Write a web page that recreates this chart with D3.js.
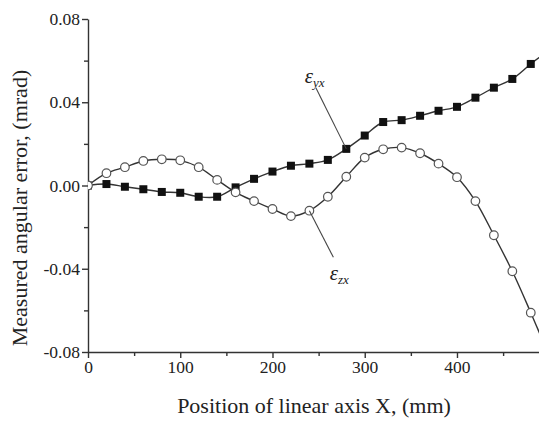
<!DOCTYPE html>
<head>
  <meta charset="utf-8">
  <script src="https://d3js.org/d3.v7.min.js"></script>
  <style>
    body { margin: 0; background: white; }
    text { font-family: "Liberation Serif", "Times New Roman", serif; fill: #222; }
    .axis path, .axis line { stroke: #333; stroke-width: 1.4; }
    .curve { fill: none; stroke: #333; stroke-width: 1.4; }
  </style>
</head>

<body>
  <script>
const W = 539;
const H = 423;

// positions along the axis (mm)
const positions = [0, 20, 40, 60, 80, 100, 120, 140, 160, 180, 200, 220, 240,
                   260, 280, 300, 320, 340, 360, 380, 400, 420, 440, 460, 480];
// eps_yx, filled squares (mrad)
const epsYX = [0, 0.0007, -0.0006, -0.0018, -0.0031, -0.0035, -0.0054, -0.0054, -0.0009,
               0.0032, 0.0067, 0.0095, 0.0105, 0.0123, 0.0176, 0.0240, 0.0305, 0.0314,
               0.0335, 0.0359, 0.0378, 0.0422, 0.0470, 0.0512, 0.0584];
// eps_zx, open circles (mrad)
const epsZX = [0, 0.0059, 0.0088, 0.0118, 0.0126, 0.0121, 0.0088, 0.0027, -0.0033,
               -0.0075, -0.0113, -0.0147, -0.0121, -0.0054, 0.0042, 0.0134, 0.0174, 0.0182,
               0.0155, 0.0105, 0.0040, -0.0075, -0.0239, -0.0412, -0.0611];
// curves run on past the last marker and out of the frame
const tailPosition = 500;
const tailYX = 0.065;
const tailZX = -0.082;

const xTicks = [0, 100, 200, 300, 400];
const xMinor = [50, 150, 250, 350, 450];
const yTicks = [-0.08, -0.04, 0, 0.04, 0.08];
const yMinor = [-0.06, -0.02, 0.02, 0.06];

const FONT = "'Liberation Serif', 'Times New Roman', serif";

var svg = d3.select("body").append("svg")
  .attr("width", W)
  .attr("height", H);

var x = d3.scaleLinear().domain([0, 490]).range([88, 540]);
var y = d3.scaleLinear().domain([-0.08, 0.08]).range([352, 19]);

svg.append("clipPath").attr("id", "plot")
  .append("rect").attr("x", 88).attr("y", 0).attr("width", 452).attr("height", 352);

// minor ticks first, then the labelled axes
svg.append("g").attr("class", "axis")
  .attr("transform", "translate(0,352)")
  .call(d3.axisBottom(x).tickValues(xMinor).tickSize(4).tickFormat(""))
  .select(".domain").remove();
svg.append("g").attr("class", "axis")
  .attr("transform", "translate(88,0)")
  .call(d3.axisLeft(y).tickValues(yMinor).tickSize(4).tickFormat(""))
  .select(".domain").remove();

var xaxis = svg.append("g").attr("class", "axis")
  .attr("transform", "translate(0,352)")
  .call(d3.axisBottom(x).tickValues(xTicks).tickSize(6).tickSizeOuter(0).tickPadding(3));
xaxis.attr("font-family", FONT);
xaxis.selectAll("text").style("font-size", "17.5px").style("font-family", FONT);

var yaxis = svg.append("g").attr("class", "axis")
  .attr("transform", "translate(88,0)")
  .call(d3.axisLeft(y).tickValues(yTicks).tickSize(6).tickSizeOuter(0).tickPadding(2)
    .tickFormat(d => d3.format(".2f")(d).replace("−", "-")));
yaxis.attr("font-family", FONT);
yaxis.selectAll("text").style("font-size", "17.5px").style("font-family", FONT);

// axis titles
svg.append("text")
  .attr("x", 314).attr("y", 413)
  .attr("text-anchor", "middle")
  .style("font-size", "22px")
  .text("Position of linear axis X, (mm)");

svg.append("text")
  .attr("transform", "translate(27,208) rotate(-90)")
  .attr("text-anchor", "middle")
  .style("font-size", "22px")
  .text("Measured angular error, (mrad)");

var line = d3.line()
  .x(d => x(d[0]))
  .y(d => y(d[1]))
  .curve(d3.curveCatmullRom);

var plot = svg.append("g").attr("clip-path", "url(#plot)");

var yxPts = positions.map((p, i) => [p, epsYX[i]]);
var zxPts = positions.map((p, i) => [p, epsZX[i]]);

plot.append("path").attr("class", "curve")
  .attr("d", line(zxPts.concat([[tailPosition, tailZX]])));
plot.append("path").attr("class", "curve")
  .attr("d", line(yxPts.concat([[tailPosition, tailYX]])));

plot.selectAll("rect.sq").data(yxPts).enter()
  .append("rect").attr("class", "sq")
  .attr("x", d => x(d[0]) - 4)
  .attr("y", d => y(d[1]) - 4)
  .attr("width", 8).attr("height", 8)
  .attr("fill", "#111");

plot.selectAll("circle.ci").data(zxPts).enter()
  .append("circle").attr("class", "ci")
  .attr("cx", d => x(d[0]))
  .attr("cy", d => y(d[1]))
  .attr("r", 4.3)
  .attr("fill", "white")
  .attr("stroke", "#555")
  .attr("stroke-width", 1.2);

// labels with leader lines
function label(px, py, sub, from, to)
{
  svg.append("line")
    .attr("x1", x(from[0])).attr("y1", y(from[1]))
    .attr("x2", x(to[0])).attr("y2", y(to[1]))
    .attr("stroke", "#444").attr("stroke-width", 1.1);
  var t = svg.append("text")
    .attr("x", x(px)).attr("y", y(py))
    .style("font-size", "21px")
    .style("font-style", "italic");
  t.append("tspan").text("ε");
  t.append("tspan").attr("dy", 4).style("font-size", "13px").text(sub);
}

label(235, 0.0494, "yx", [247, 0.0470], [280, 0.0176]);
label(262, -0.0455, "zx", [240, -0.0121], [266, -0.0345]);
  </script>
</body>
